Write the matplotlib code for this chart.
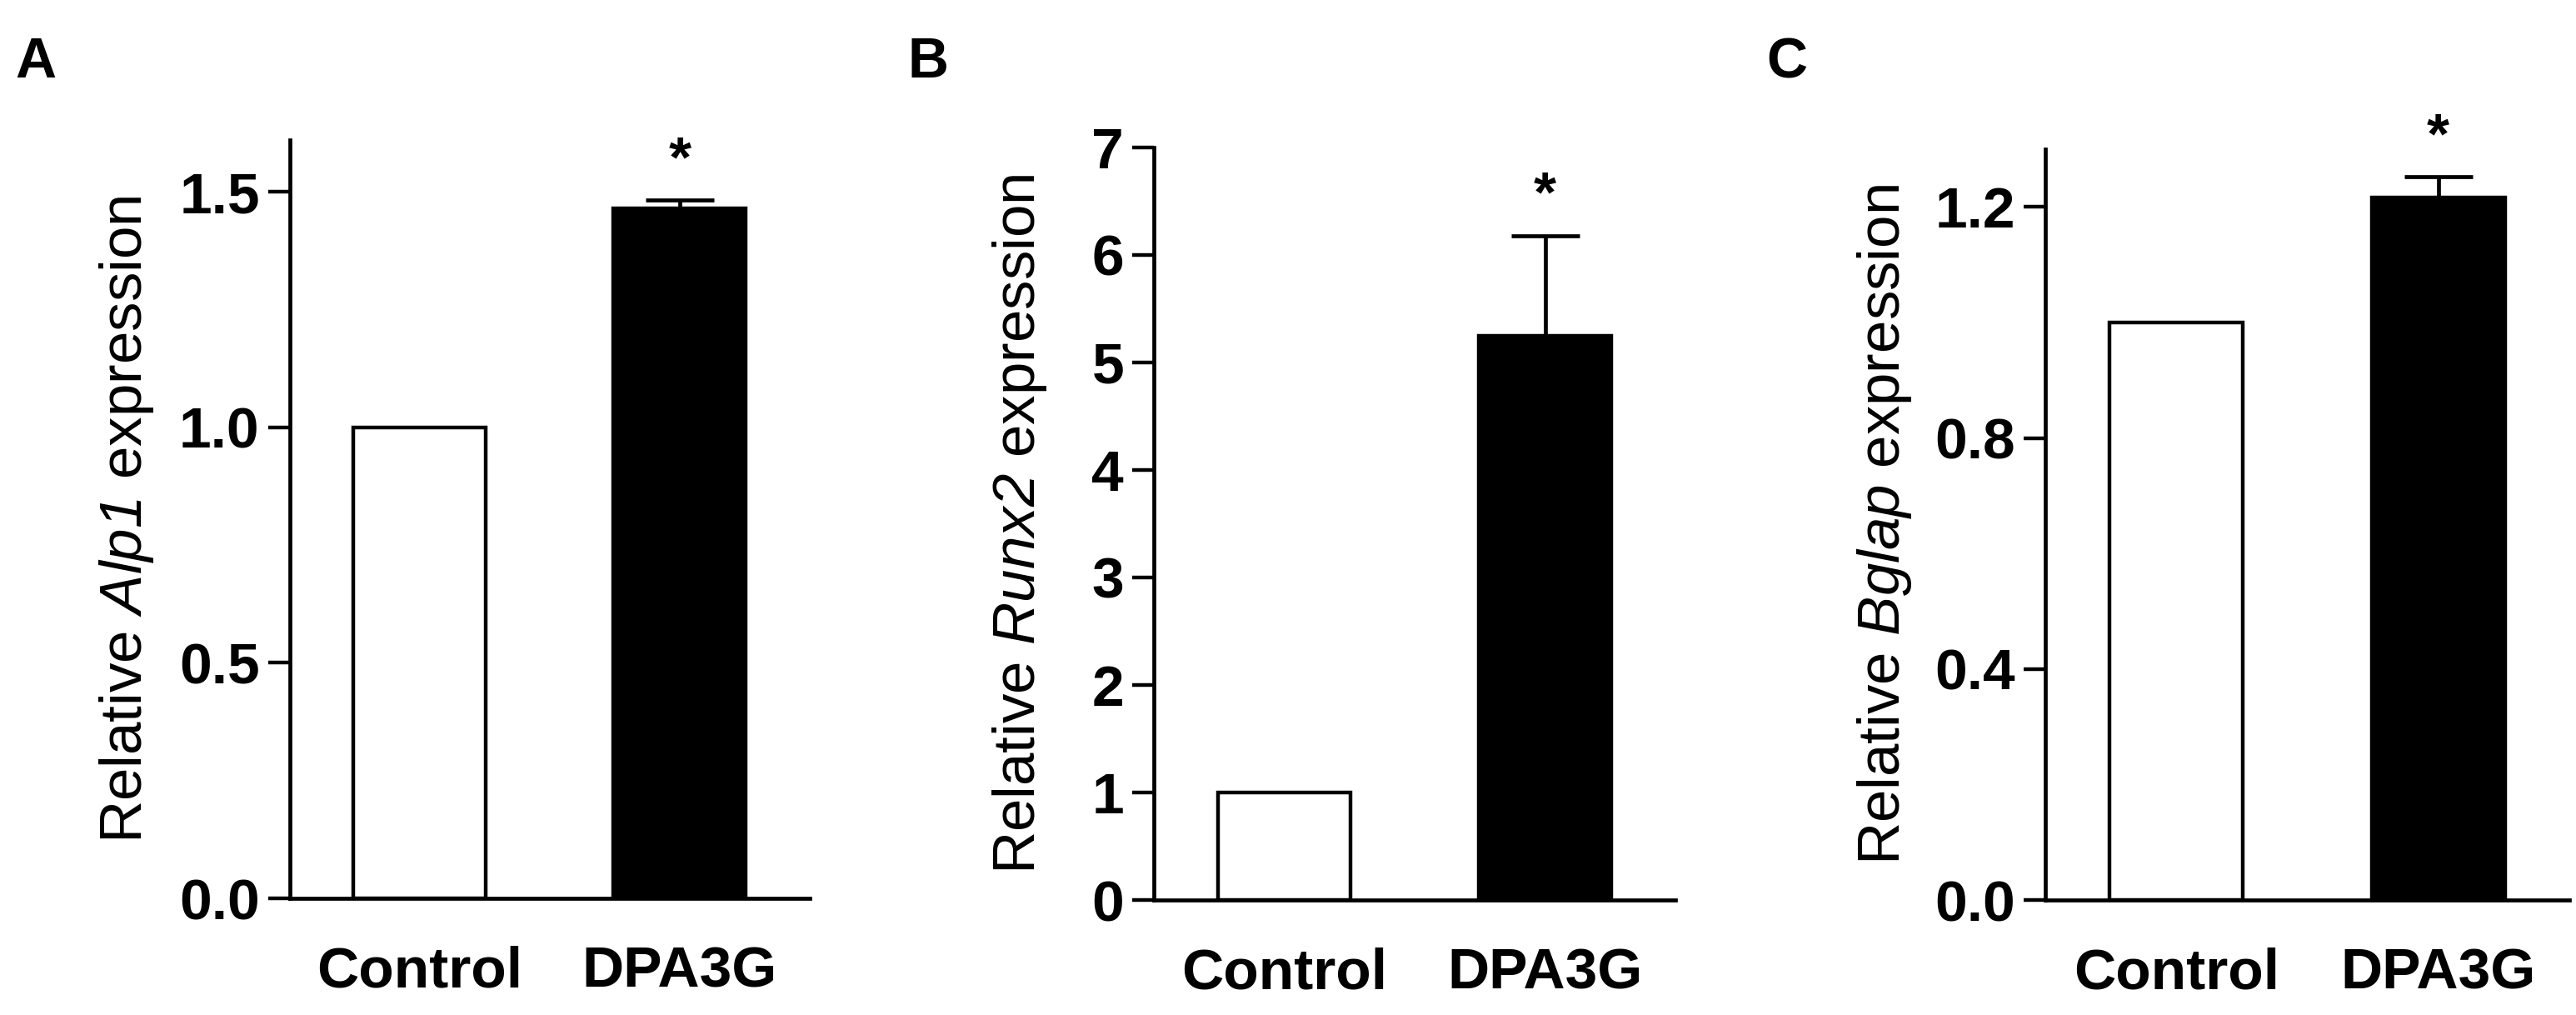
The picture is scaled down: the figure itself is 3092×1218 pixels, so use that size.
import matplotlib
matplotlib.use("Agg")
import matplotlib.pyplot as plt

plt.rcParams['font.family'] = ['Liberation Sans', 'DejaVu Sans']
plt.rcParams['mathtext.fontset'] = 'custom'
plt.rcParams['mathtext.it'] = 'Liberation Sans:italic'
plt.rcParams['mathtext.rm'] = 'Liberation Sans:italic'  # so the digits in gene names are italic too

# data
groups = ['Control', 'DPA3G']
alp1_mean = [1.0, 1.465]
alp1_err = [0.0, 0.017]
runx2_mean = [1.0, 5.25]
runx2_err = [0.0, 0.93]
bglap_mean = [1.0, 1.217]
bglap_err = [0.0, 0.035]

panels = [
    ('A', r'Relative $\it{Alp1}$ expression', alp1_mean, alp1_err, 1.61,
     [0.0, 0.5, 1.0, 1.5], ['0.0', '0.5', '1.0', '1.5']),
    ('B', r'Relative $\it{Runx2}$ expression', runx2_mean, runx2_err, 7.0,
     [0, 1, 2, 3, 4, 5, 6, 7], ['0', '1', '2', '3', '4', '5', '6', '7']),
    ('C', r'Relative $\it{Bglap}$ expression', bglap_mean, bglap_err, 1.30,
     [0.0, 0.4, 0.8, 1.2], ['0.0', '0.4', '0.8', '1.2']),
]

# axes boxes [left, bottom, width, height] in figure fraction
boxes = [
    [0.1125, 0.1149, 0.2018, 0.7471],
    [0.4480, 0.1133, 0.2024, 0.7414],
    [0.7940, 0.1133, 0.2034, 0.7397],
]
ylabel_x = [-0.258, -0.2016, -0.251]
letter_x = [0.0058, 0.3525, 0.6857]

fig = plt.figure(figsize=(30.92, 12.18), dpi=100)

for (letter, ylab, means, errs, ytop, ticks, ticklabels), box, yl, lx in zip(
        panels, boxes, ylabel_x, letter_x):
    ax = fig.add_axes(box)
    x = [0, 1]
    ax.bar(x, means, width=0.51, color=['white', 'black'], edgecolor='black',
           linewidth=3.2, zorder=2)
    ax.errorbar(x[1], means[1], yerr=[[0], [errs[1]]], fmt='none', ecolor='black',
                elinewidth=3.4, capsize=29.5, capthick=3.4, zorder=3)
    # significance star above the error bar
    ax.annotate('*', xy=(x[1], means[1] + errs[1]), xytext=(0, 21),
                textcoords='offset points', ha='center', va='baseline',
                fontsize=50, fontweight='bold')
    ax.set_xlim(-0.5, 1.5)
    ax.set_ylim(0, ytop)
    ax.set_yticks(ticks)
    ax.set_yticklabels(ticklabels, fontsize=50, fontweight='bold')
    ax.set_xticks(x)
    ax.set_xticklabels(groups, fontsize=50, fontweight='bold')
    ax.tick_params(axis='x', length=0, pad=41)
    ax.tick_params(axis='y', length=19, width=3.2, pad=7)
    ax.spines['top'].set_visible(False)
    ax.spines['right'].set_visible(False)
    ax.spines['left'].set_linewidth(3.4)
    ax.spines['bottom'].set_linewidth(3.4)
    ax.set_ylabel(ylab, fontsize=51)
    ax.yaxis.set_label_coords(yl, 0.5)
    fig.text(lx, 0.9236, letter, fontsize=49, fontweight='bold', va='baseline', ha='left')

fig.savefig('out.png', dpi=100)
